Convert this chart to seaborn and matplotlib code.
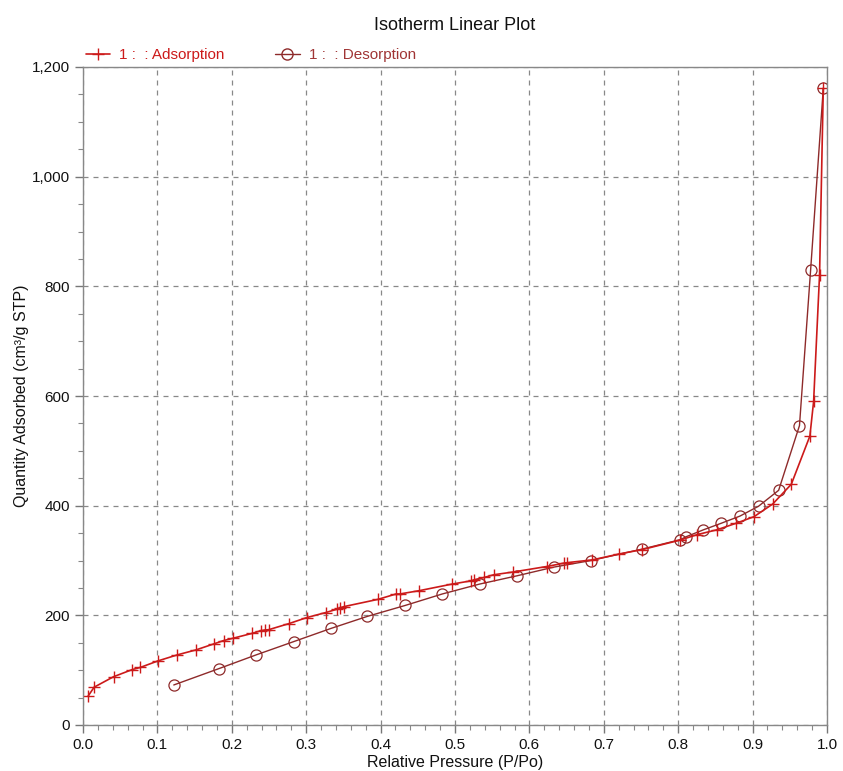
import matplotlib
matplotlib.use("Agg")
import matplotlib.pyplot as plt
import seaborn as sns
import pandas as pd
from matplotlib.ticker import MultipleLocator, FuncFormatter
from matplotlib.lines import Line2D

ads_p = [0.007, 0.015, 0.041, 0.066, 0.077, 0.101, 0.127, 0.152, 0.176, 0.189, 0.201,
         0.227, 0.239, 0.244, 0.250, 0.277, 0.301, 0.326, 0.341, 0.346, 0.351,
         0.396, 0.421, 0.426, 0.452, 0.496, 0.522, 0.526, 0.539, 0.552, 0.578,
         0.623, 0.646, 0.650, 0.684, 0.721, 0.752, 0.802, 0.825, 0.852, 0.878,
         0.902, 0.927, 0.952, 0.977, 0.982, 0.990, 0.995]
ads_q = [53, 69, 88, 101, 105, 117, 128, 137, 148, 154, 158,
         167, 172, 173, 174, 185, 196, 205, 211, 214, 216,
         229, 239, 239, 245, 257, 263, 265, 269, 274, 279,
         289, 295, 296, 301, 312, 320, 337, 347, 356, 368,
         380, 403, 439, 527, 590, 821, 1161]

des_p = [0.995, 0.978, 0.963, 0.935, 0.908, 0.883, 0.858, 0.834, 0.810, 0.803,
         0.752, 0.683, 0.633, 0.583, 0.533, 0.483, 0.433, 0.382, 0.333, 0.283,
         0.233, 0.183, 0.122]
des_q = [1161, 830, 546, 428, 399, 381, 368, 356, 343, 338,
         321, 300, 288, 272, 257, 239, 218, 198, 176, 152,
         128, 103, 73]

title = "Isotherm Linear Plot"
ads_label = "1 :  : Adsorption"
des_label = "1 :  : Desorption"
x_label = "Relative Pressure (P/Po)"
y_label = "Quantity Adsorbed (cm\u00b3/g STP)"

ads_color = "#cc1a1a"
des_color = "#8e2a2a"

sns.set_theme(style="white")
plt.rcParams['font.family'] = ['Liberation Sans', 'DejaVu Sans']

fig = plt.figure(figsize=(8.43, 7.71), dpi=100)
ax = fig.add_axes([83/843, 46/771, (827-83)/843, (725-67)/771])

ads_df = pd.DataFrame({"p": ads_p, "q": ads_q})
des_df = pd.DataFrame({"p": des_p, "q": des_q})

sns.lineplot(data=des_df, x="p", y="q", sort=False, ax=ax, color=des_color, lw=1.0,
             marker="o", markersize=8, markerfacecolor="none", markeredgecolor=des_color,
             markeredgewidth=0.9)
sns.lineplot(data=ads_df, x="p", y="q", sort=False, ax=ax, color=ads_color, lw=1.2,
             marker="+", markersize=9, markeredgecolor=ads_color, markeredgewidth=1.0)

ax.set_xlim(0, 1.0)
ax.set_ylim(0, 1200)
ax.xaxis.set_major_locator(MultipleLocator(0.1))
ax.xaxis.set_minor_locator(MultipleLocator(0.02))
ax.yaxis.set_major_locator(MultipleLocator(200))
ax.yaxis.set_minor_locator(MultipleLocator(50))
ax.xaxis.set_major_formatter(FuncFormatter(lambda v, _: f"{v:.1f}"))
ax.yaxis.set_major_formatter(FuncFormatter(lambda v, _: f"{int(round(v)):,}"))

ax.grid(True, which="major", linestyle=(0, (4, 4)), color="#888888", lw=0.9)
for s in ax.spines.values():
    s.set_color("#888888")
    s.set_linewidth(1.0)
ax.tick_params(which="major", direction="out", length=6, width=1, color="#777777",
               labelsize=11, labelcolor="#111111", bottom=True, left=True)
ax.tick_params(which="minor", direction="out", length=3.5, width=0.8, color="#888888",
               bottom=True, left=True)

ax.set_xlabel(x_label, fontsize=11.5, color="#111111", labelpad=2)
ax.set_ylabel(y_label, fontsize=11.5, color="#111111", labelpad=2)
fig.text(455/843, 1 - 25/771, title, ha="center", va="center", fontsize=13, color="#111111")

handles = [
    Line2D([0], [0], color=ads_color, lw=1.2, marker="+", markersize=9, markeredgewidth=1.0),
    Line2D([0], [0], color=des_color, lw=1.0, marker="o", markersize=8,
           markerfacecolor="none", markeredgecolor=des_color),
]
leg = fig.legend(handles, [ads_label, des_label], loc="center left",
                 bbox_to_anchor=(72/843, 1 - 55/771), ncol=2, frameon=False,
                 fontsize=11, handlelength=1.6, columnspacing=3.3, handletextpad=0.6)
leg.get_texts()[0].set_color(ads_color)
leg.get_texts()[1].set_color("#a03535")

fig.savefig("out.png", dpi=100)
